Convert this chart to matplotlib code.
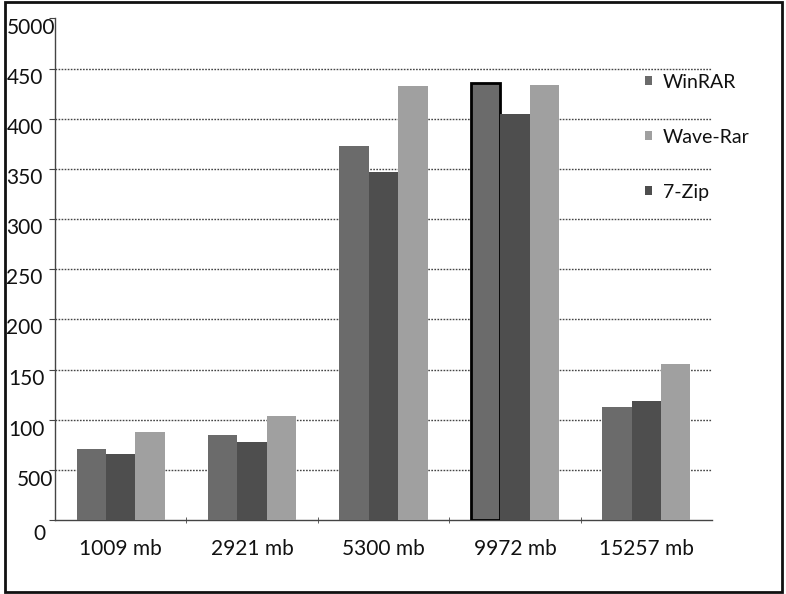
import matplotlib
matplotlib.use("Agg")
import matplotlib.pyplot as plt
import numpy as np
from matplotlib.patches import Rectangle
from matplotlib.transforms import ScaledTranslation

categories = ["1009 mb", "2921 mb", "5300 mb", "9972 mb", "15257 mb"]
winrar = [71, 85, 373, 436, 113]
zip7 = [66, 78, 347, 405, 119]
waverar = [88, 104, 433, 434, 156]
ytick_values = [0, 50, 100, 150, 200, 250, 300, 350, 400, 450, 500]
ytick_labels = ["0", "500", "100", "150", "200", "250", "300", "350", "400", "450", "5000"]

plt.rcParams['font.family'] = ['Lato', 'DejaVu Sans']

W, H = 786, 594
fig = plt.figure(figsize=(W / 100, H / 100), dpi=100)
ax = fig.add_axes([55 / W, (H - 520) / H, (712 - 55) / W, (520 - 18.5) / H])

x = np.arange(len(categories))
bw = 0.224
c_win, c_zip, c_wave = "#6b6b6b", "#4e4e4e", "#a0a0a0"
b1 = ax.bar(x - bw, winrar, bw, color=c_win, label="WinRAR", zorder=3)
b2 = ax.bar(x, zip7, bw, color=c_zip, label="7-Zip", zorder=3)
b3 = ax.bar(x + bw, waverar, bw, color=c_wave, label="Wave-Rar", zorder=3)
b1[3].set_edgecolor("black")
b1[3].set_linewidth(2)

ax.set_xlim(-0.5, len(categories) - 0.5)
ax.set_ylim(0, 500)

# grid
for v in ytick_values[1:-1]:
    ax.axhline(v, color="#444444", lw=1, ls=(0, (1.2, 1.0)), zorder=1)

for s in ["top", "right"]:
    ax.spines[s].set_visible(False)
for s in ["left", "bottom"]:
    ax.spines[s].set_linestyle((0, (1.2, 1.0)))
    ax.spines[s].set_color("#444444")
    ax.spines[s].set_linewidth(1)

ax.set_xticks(x)
ax.set_xticklabels(categories, fontsize=15, color="#111111")
ax.tick_params(axis="x", which="major", length=0, pad=14)
ax.set_xticks(x[:-1] + 0.5, minor=True)
ax.tick_params(axis="x", which="minor", length=4, direction="inout", color="#444444")

ax.set_yticks(ytick_values)
ax.set_yticklabels(ytick_labels, fontsize=15, color="#111111")
ax.tick_params(axis="y", length=4, color="#444444", direction="out", pad=48 * 0.72)
for lab in ax.get_yticklabels():
    lab.set_horizontalalignment("left")

shifts = {"0": (32, -12), "500": (15, -8), "100": (7, -8), "150": (7, -7)}
for lab, txt in zip(ax.get_yticklabels(), ytick_labels):
    dx, dy = shifts.get(txt, (5, -7))
    lab.set_transform(lab.get_transform() + ScaledTranslation(dx / 100, dy / 100, fig.dpi_scale_trans))

handles = [b1, b3, b2]
labels = ["WinRAR", "Wave-Rar", "7-Zip"]
leg = ax.legend(handles, labels, loc="upper left", bbox_to_anchor=(635 / W, (H - 64) / H),
                bbox_transform=fig.transFigure, frameon=False, fontsize=14,
                labelspacing=1.95, handlelength=0.35, handleheight=0.35,
                handletextpad=0.6, borderpad=0)
for t in leg.get_texts():
    t.set_color("#111111")

fig.add_artist(Rectangle((5 / W, 2 / H), (782 - 5) / W, (592 - 2) / H,
                         transform=fig.transFigure, fill=False, lw=2, ec="#111111"))

fig.savefig("out.png", dpi=100)
